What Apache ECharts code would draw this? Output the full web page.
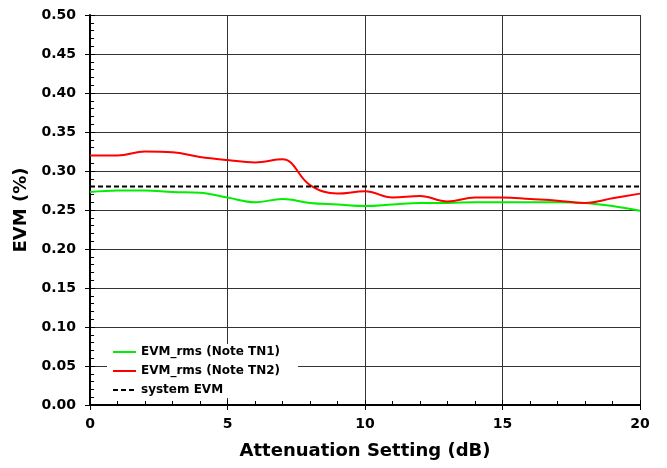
<!DOCTYPE html>
<html>
<head>
<meta charset="utf-8">
<script src="https://cdn.jsdelivr.net/npm/echarts@6/dist/echarts.min.js"></script>
<style>
    html, body { margin: 0; padding: 0; background: #fff; }
    #chart { width: 667px; height: 468px; }
</style>
</head>
<body>
<div id="chart"></div>
<script>
    // attenuation setting (dB)
    const atten = [0, 1, 2, 3, 4, 5, 6, 7, 8, 9, 10, 11, 12, 13, 14, 15, 16, 17, 18, 19, 20];
    const evmTN1 = [0.273, 0.275, 0.275, 0.273, 0.272, 0.266, 0.260, 0.264, 0.259, 0.257, 0.255,
        0.257, 0.259, 0.259, 0.260, 0.260, 0.260, 0.260, 0.259, 0.255, 0.249];
    const evmTN2 = [0.320, 0.320, 0.325, 0.324, 0.318, 0.314, 0.311, 0.315, 0.282, 0.271, 0.274,
        0.266, 0.268, 0.261, 0.266, 0.266, 0.264, 0.262, 0.259, 0.265, 0.271];
    const systemEvm = 0.28;
    const seriesNames = ['EVM_rms (Note TN1)', 'EVM_rms (Note TN2)', 'system EVM'];

    const font = 'DejaVu Sans';
    const chart = echarts.init(document.getElementById('chart'));

    const pair = (xs, ys) => xs.map((x, i) => [x, ys[i]]);

    const option = {
        animation: false,
        backgroundColor: '#fff',
        grid: { left: 90, right: 27, top: 15, bottom: 63 },
        legend: {
            orient: 'vertical',
            left: 107,
            top: 344,
            backgroundColor: '#fff',
            padding: [2, 18, 2, 5],
            itemWidth: 23,
            itemHeight: 14,
            itemGap: 7,
            itemStyle: { opacity: 0 },
            textStyle: { fontFamily: font, fontWeight: 'bold', fontSize: 12, color: '#000' },
            data: seriesNames
        },
        xAxis: [
            {
                type: 'value', min: 0, max: 20, interval: 5,
                name: 'Attenuation Setting (dB)',
                nameLocation: 'middle', nameGap: 37,
                nameTextStyle: { fontFamily: font, fontWeight: 'bold', fontSize: 18, color: '#000' },
                axisLine: { lineStyle: { color: '#000', width: 2 } },
                axisTick: { inside: true, length: 5, lineStyle: { color: '#000' } },
                minorTick: { show: true, splitNumber: 5, length: 4, lineStyle: { color: '#000' } },
                axisLabel: { fontFamily: font, fontWeight: 'bold', fontSize: 14, color: '#000', margin: 12 },
                splitLine: { show: true, lineStyle: { color: '#333', width: 1 } }
            },
            {
                type: 'value', min: 0, max: 20, interval: 5, position: 'bottom',
                axisLine: { show: false },
                axisTick: { show: true, length: 5, lineStyle: { color: '#000' } },
                axisLabel: { show: false },
                splitLine: { show: false }
            }
        ],
        yAxis: [
            {
                type: 'value', min: 0, max: 0.5, interval: 0.05,
                name: 'EVM (%)',
                nameLocation: 'middle', nameGap: 60,
                nameTextStyle: { fontFamily: font, fontWeight: 'bold', fontSize: 18, color: '#000' },
                axisLine: { show: true, lineStyle: { color: '#000', width: 2 } },
                axisTick: { inside: true, length: 5, lineStyle: { color: '#000' } },
                minorTick: { show: true, splitNumber: 5, length: 4, lineStyle: { color: '#000' } },
                axisLabel: {
                    fontFamily: font, fontWeight: 'bold', fontSize: 14, color: '#000', margin: 14,
                    formatter: v => v.toFixed(2)
                },
                splitLine: { show: true, lineStyle: { color: '#333', width: 1 } }
            },
            {
                type: 'value', min: 0, max: 0.5, interval: 0.05, position: 'left',
                axisLine: { show: false },
                axisTick: { show: true, length: 5, lineStyle: { color: '#000' } },
                axisLabel: { show: false },
                splitLine: { show: false }
            }
        ],
        series: [
            {
                name: seriesNames[0], type: 'line', smooth: 0.4, symbol: 'none',
                lineStyle: { color: '#00ee00', width: 2 }, itemStyle: { color: '#00ee00' },
                data: pair(atten, evmTN1)
            },
            {
                name: seriesNames[1], type: 'line', smooth: 0.4, symbol: 'none',
                lineStyle: { color: '#ff0000', width: 2 }, itemStyle: { color: '#ff0000' },
                data: pair(atten, evmTN2)
            },
            {
                name: seriesNames[2], type: 'line', symbol: 'none',
                lineStyle: { color: '#000', width: 2, type: [5, 3] }, itemStyle: { color: '#000' },
                data: [[0, systemEvm], [20, systemEvm]]
            }
        ]
    };

    chart.setOption(option);
</script>
</body>
</html>
